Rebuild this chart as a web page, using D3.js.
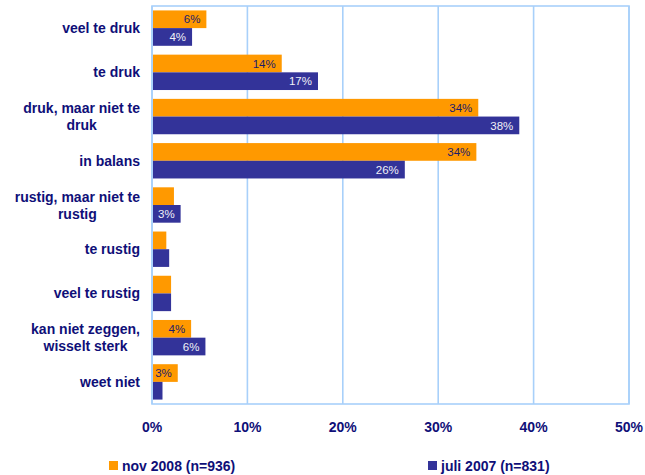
<!DOCTYPE html>
<html>
<head>
<meta charset="utf-8">
<script src="https://cdn.jsdelivr.net/npm/d3@7"></script>
<style>
  body { margin: 0; background: #fff; }
  svg { display: block; font-family: "Liberation Sans", Arial, sans-serif; }
</style>
</head>
<body>
<div id="chart"></div>
<script>
// categories top to bottom
var categories = ["veel te druk", "te druk", "druk, maar niet te druk", "in balans",
  "rustig, maar niet te rustig", "te rustig", "veel te rustig",
  "kan niet zeggen, wisselt sterk", "weet niet"];
var seriesNames = ["nov 2008 (n=936)", "juli 2007 (n=831)"];
var nov2008 = [5.7, 13.6, 34.2, 34.0, 2.3, 1.5, 2.0, 4.1, 2.7];
var juli2007 = [4.2, 17.4, 38.5, 26.5, 3.0, 1.8, 2.0, 5.6, 1.1];
// data labels as printed (null = no label shown)
var novLabels = ["6%", "14%", "34%", "34%", null, null, null, "4%", "3%"];
var juliLabels = ["4%", "17%", "38%", "26%", "3%", null, null, "6%", null];
var xTicks = [0, 10, 20, 30, 40, 50];

var width = 645, height = 475;
var margin = { top: 6, right: 16, bottom: 71, left: 152 };
var colors = ["#FF9900", "#333399"];
var labelColors = ["#1c1c6a", "#f0f0f6"];
var navy = "#0f0f78";
var grid = "#a8d0fa";

var svg = d3.select("#chart").append("svg")
  .attr("width", width).attr("height", height);

var x = d3.scaleLinear().domain([0, 50])
  .range([margin.left, width - margin.right]);
var y = d3.scaleBand().domain(categories)
  .range([margin.top, height - margin.bottom])
  .paddingInner(0.2).paddingOuter(0.1);
var ySub = d3.scaleBand().domain([0, 1]).range([0, y.bandwidth()]);

// grid lines
svg.append("g").selectAll("line").data(xTicks).join("line")
  .attr("x1", d => x(d)).attr("x2", d => x(d))
  .attr("y1", margin.top).attr("y2", height - margin.bottom)
  .attr("stroke", grid).attr("stroke-width", 1.6);
// plot border
svg.append("rect")
  .attr("x", x(0)).attr("y", margin.top)
  .attr("width", x(50) - x(0)).attr("height", height - margin.bottom - margin.top)
  .attr("fill", "none").attr("stroke", grid).attr("stroke-width", 1.6);

var series = [
  { values: nov2008, labels: novLabels },
  { values: juli2007, labels: juliLabels }
];

series.forEach(function (s, si) {
  var rows = s.values.map((v, i) => ({ cat: categories[i], value: v, label: s.labels[i] }));
  var g = svg.append("g");
  g.selectAll("rect").data(rows).join("rect")
    .attr("x", x(0) + 1)
    .attr("y", d => y(d.cat) + ySub(si))
    .attr("width", d => x(d.value) - x(0) - 1)
    .attr("height", ySub.bandwidth())
    .attr("fill", colors[si]);
  g.selectAll("text").data(rows.filter(d => d.label !== null)).join("text")
    .attr("x", d => x(d.value) - 6)
    .attr("y", d => y(d.cat) + ySub(si) + ySub.bandwidth() / 2)
    .attr("dy", "0.36em")
    .attr("text-anchor", "end")
    .attr("font-size", "11.5px")
    .attr("fill", labelColors[si])
    .text(d => d.label);
});

// category labels, wrapped and centred per line
function wrapLines(text, maxW) {
  var words = text.split(" ");
  var tmp = svg.append("text").attr("font-size", "14px").attr("font-weight", "bold");
  var lines = [], line = [];
  words.forEach(function (w) {
    var trial = line.concat([w]).join(" ");
    tmp.text(trial);
    if (line.length && tmp.node().getComputedTextLength() > maxW) {
      lines.push(line.join(" "));
      line = [w];
    } else {
      line.push(w);
    }
  });
  lines.push(line.join(" "));
  var widths = lines.map(function (l) { tmp.text(l); return tmp.node().getComputedTextLength(); });
  tmp.remove();
  return { lines: lines, width: d3.max(widths) };
}

var catG = svg.append("g");
categories.forEach(function (c) {
  var w = wrapLines(c, 132);
  var cy = y(c) + y.bandwidth() / 2;
  var lh = 17;
  var t = catG.append("text")
    .attr("font-size", "14px").attr("font-weight", "bold")
    .attr("fill", navy).attr("text-anchor", "middle");
  w.lines.forEach(function (l, i) {
    t.append("tspan")
      .attr("x", 140 - w.width / 2)
      .attr("y", cy + (i - (w.lines.length - 1) / 2) * lh)
      .attr("dy", "0.36em")
      .text(l);
  });
});

// x axis labels
svg.append("g").selectAll("text").data(xTicks).join("text")
  .attr("x", d => x(d)).attr("y", 432)
  .attr("text-anchor", "middle")
  .attr("font-size", "14px").attr("font-weight", "bold")
  .attr("fill", navy)
  .text(d => d + "%");

// legend
var legendX = [109, 428];
var leg = svg.append("g");
seriesNames.forEach(function (n, i) {
  leg.append("rect")
    .attr("x", legendX[i]).attr("y", 461)
    .attr("width", 9).attr("height", 9)
    .attr("fill", colors[i]);
  leg.append("text")
    .attr("x", legendX[i] + 13).attr("y", 471)
    .attr("font-size", "14px").attr("font-weight", "bold")
    .attr("fill", navy)
    .text(n);
});
</script>
</body>
</html>
